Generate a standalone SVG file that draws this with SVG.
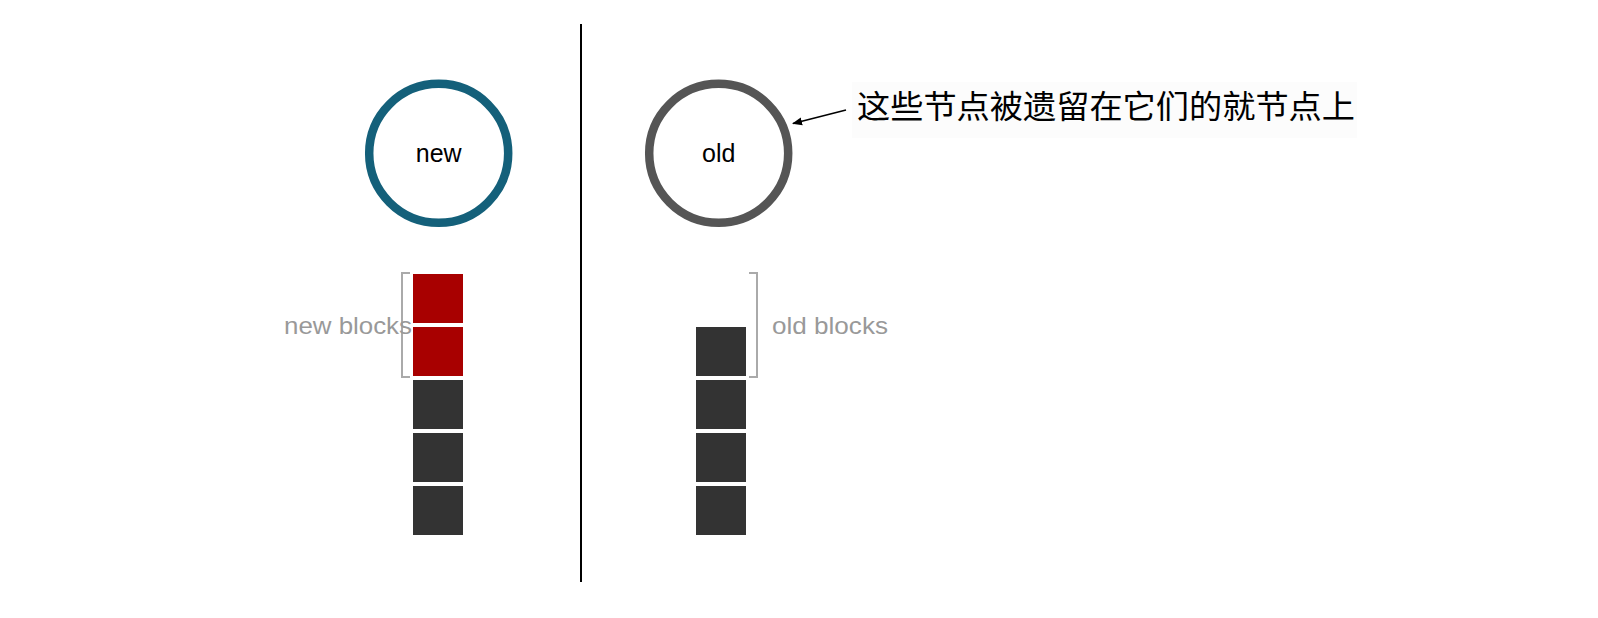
<svg xmlns="http://www.w3.org/2000/svg" width="1598" height="618" viewBox="0 0 1598 618">
<defs>
<style>
.lbl{font-family:"Liberation Sans",Arial,sans-serif;font-size:25px;fill:#000;text-anchor:middle}
.side{font-family:"Liberation Sans",Arial,sans-serif;font-size:24px;fill:#999}
.blk{fill:#333}
.red{fill:#a80000}
.br{fill:none;stroke:#aaa;stroke-width:2}
</style>
<marker id="ah" viewBox="0 0 10 10" refX="9" refY="5" markerWidth="10" markerHeight="10" markerUnits="userSpaceOnUse" orient="auto"><path d="M0,1 L10,5 L0,9 z" fill="#000"/></marker>
</defs>
<rect width="1598" height="618" fill="#fff"/>
<g id="divider"><line x1="581" y1="24" x2="581" y2="582" stroke="#000" stroke-width="2"/></g>
<g id="node-new">
<circle cx="438.7" cy="153.3" r="69.5" fill="none" stroke="#14607a" stroke-width="8.5"/>
<text class="lbl" x="438.7" y="162">new</text>
</g>
<g id="node-old">
<circle cx="718.7" cy="153.3" r="69.5" fill="none" stroke="#555" stroke-width="8.5"/>
<text class="lbl" x="718.7" y="162">old</text>
</g>
<g id="new-blocks">
<rect class="red" x="413" y="274" width="50" height="49"/>
<rect class="red" x="413" y="327" width="50" height="49"/>
<rect class="blk" x="413" y="380" width="50" height="49"/>
<rect class="blk" x="413" y="433" width="50" height="49"/>
<rect class="blk" x="413" y="486" width="50" height="49"/>
<path class="br" d="M410,273 H402 V377 H410"/>
<text class="side" x="284" y="334" textLength="128" lengthAdjust="spacingAndGlyphs">new blocks</text>
</g>
<g id="old-blocks">
<rect class="blk" x="696" y="327" width="50" height="49"/>
<rect class="blk" x="696" y="380" width="50" height="49"/>
<rect class="blk" x="696" y="433" width="50" height="49"/>
<rect class="blk" x="696" y="486" width="50" height="49"/>
<path class="br" d="M749,273 H757 V377 H749"/>
<text class="side" x="772" y="334" textLength="116" lengthAdjust="spacingAndGlyphs">old blocks</text>
</g>
<g id="annotation">
<rect x="852" y="82" width="505" height="56" fill="#fcfcfc"/>
<text x="857" y="118" font-family="'Noto Sans CJK SC',sans-serif" font-size="32" fill="#000" textLength="498" lengthAdjust="spacingAndGlyphs">这些节点被遗留在它们的就节点上</text>
</g>
<g id="connectors">
<line x1="846" y1="110" x2="793" y2="123.5" stroke="#000" stroke-width="1.5" marker-end="url(#ah)"/>
</g>
</svg>
